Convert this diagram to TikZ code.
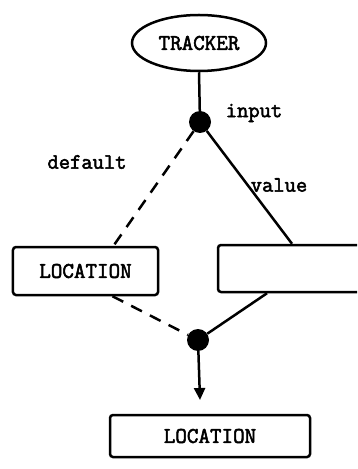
\documentclass[tikz,border=0pt]{standalone}
\usepackage{fontspec}
\newfontfamily\typew{Latin Modern Mono}[FakeBold=2.4]
\usetikzlibrary{arrows.meta,shapes.geometric}
\begin{document}
\begin{tikzpicture}[x=1bp,y=-1bp,
  lw/.style={line width=2.5bp},
  txt/.style={font=\fontsize{22.5}{24}\selectfont\typew},
  lbl/.style={font=\fontsize{22}{24}\selectfont\typew, inner sep=0pt},
  boxnode/.style={draw, lw, rounded corners=3bp, txt, inner sep=0pt},
  dotnode/.style={circle, fill=black, inner sep=0pt, minimum size=22bp},
  conn/.style={lw},
  dconn/.style={lw, dash pattern=on 12bp off 9bp}]
\useasboundingbox (0,0) rectangle (357,469);
\clip (0,0) rectangle (357,469);
\node[draw, lw, ellipse, minimum width=134bp, minimum height=56bp, txt, inner sep=0pt] (tracker) at (199,43) {TRACKER};
\node[dotnode] (top) at (200,122) {};
\node[dotnode] (bot) at (198,340) {};
\node[boxnode, minimum width=145bp, minimum height=48bp] (lbox) at (85.5,271) {LOCATION};
\node[boxnode, minimum width=154bp, minimum height=47bp] (rbox) at (295,268.5) {};
\node[boxnode, minimum width=200bp, minimum height=42bp] (out) at (210,436) {LOCATION};
\node[lbl] (input) at (254,113) {input};
\node[lbl] (default) at (87,162) {default};
\node[lbl] (value) at (279,185) {value};
\coordinate (tip) at (200,400);
\draw[conn] (tracker.south) -- (top);
\draw[dconn] (top) -- ([xshift=28bp]lbox.north);
\draw[conn] (top) -- ([xshift=-3bp]rbox.north);
\draw[dconn] ([xshift=27bp]lbox.south) -- (bot);
\draw[conn] ([xshift=-28bp]rbox.south) -- (bot);
\draw[conn, -{Triangle[width=11bp,length=12bp]}] (bot) -- (tip);
\end{tikzpicture}
\end{document}
